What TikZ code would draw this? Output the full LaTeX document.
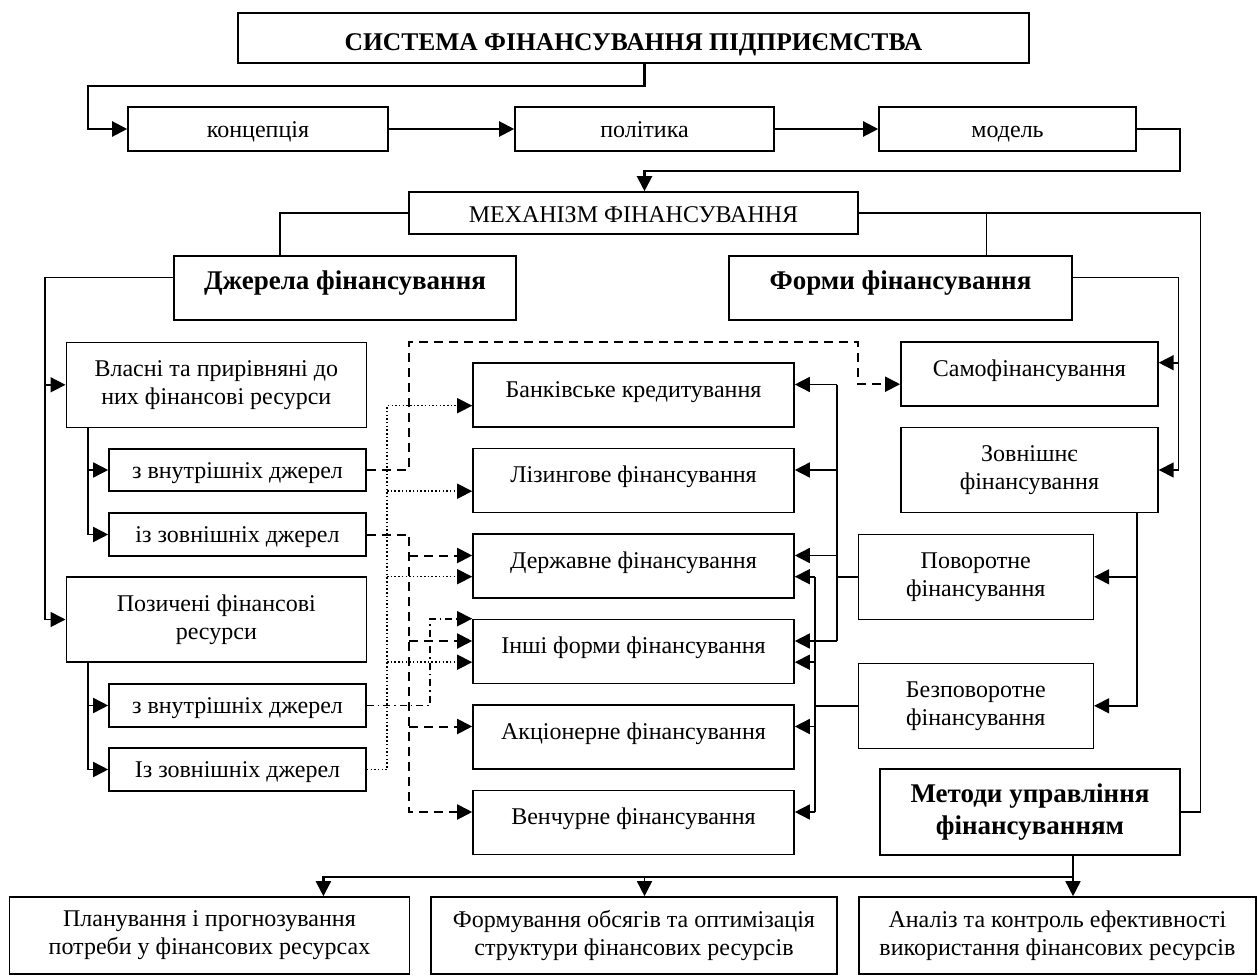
\documentclass[tikz,border=0pt]{standalone}
\usepackage{fontspec}
\setmainfont{Liberation Serif}
\usetikzlibrary{arrows.meta,calc}
\newcommand\myfs{\fontsize{24}{28}\selectfont}
\newcommand\mybf{\fontsize{27}{32}\selectfont\bfseries}
\begin{document}
\begin{tikzpicture}[x=1pt,y=-1pt,
  box/.style={draw, line width=1.6pt, inner sep=2pt, align=center, font=\myfs},
  bf/.style={font=\mybf},
  one/.style={text height=14pt, text depth=10pt},
  sm/.style={text height=20pt, text depth=4pt},
  low/.style={text height=21pt, text depth=3pt},
  wh/.style 2 args={minimum width=#1pt, minimum height=#2pt},
  ln/.style={line width=1.6pt, line join=miter},
  tip/.style={-{Triangle[length=15pt,width=15pt]}},
  arr/.style={ln, tip},
  thk/.style={line width=2.2pt, line join=miter, tip},
  dsh/.style={line width=2pt, dash pattern=on 9pt off 6pt, tip},
  dot/.style={line width=1.5pt, dash pattern=on 1.5pt off 2.2pt, tip},
  dd/.style={line width=1.6pt, dash pattern=on 7pt off 4pt on 1.5pt off 4pt, tip}]
\useasboundingbox (0,0) rectangle (1258,976);

% top part
\node[box,wh={791}{50},text height=27pt,text depth=2pt,font=\fontsize{25.5}{30}\selectfont\bfseries] (title) at (633.5,38) {СИСТЕМА ФІНАНСУВАННЯ ПІДПРИЄМСТВА};
\node[box,wh={260}{44},low] (konc) at (258,129) {концепція};
\node[box,wh={259}{44},low] (pol) at (644.5,129) {політика};
\node[box,wh={257}{44},low] (model) at (1007.5,129) {модель};
\node[box,wh={449}{42},text height=22pt,text depth=2pt] (mech) at (633.5,213) {МЕХАНІЗМ ФІНАНСУВАННЯ};
\node[box,wh={342}{64},bf,one] (dzh) at (345,288) {Джерела фінансування};
\node[box,wh={343}{64},bf,one] (form) at (900.5,288) {Форми фінансування};

% left column
\node[box,wh={300}{85}] (vlas) at (216.3,384.8) {Власні та прирівняні до\\них фінансові ресурси};
\node[box,wh={257}{42},sm] (vz1) at (237.5,470) {з внутрішніх джерел};
\node[box,wh={257}{43},sm] (vz2) at (237.5,534.5) {із зовнішніх джерел};
\node[box,wh={300}{85}] (poz) at (216.3,619.5) {Позичені фінансові\\ресурси};
\node[box,wh={257}{43},sm] (pz1) at (237.5,705.5) {з внутрішніх джерел};
\node[box,wh={257}{43},sm] (pz2) at (237.5,769.5) {Із зовнішніх джерел};

% middle column
\node[box,wh={321}{64},one] (bank) at (633.5,395) {Банківське кредитування};
\node[box,wh={321}{64},one] (liz) at (633.5,480.5) {Лізингове фінансування};
\node[box,wh={321}{64},one] (derzh) at (633.5,566) {Державне фінансування};
\node[box,wh={321}{64},one] (inshi) at (633.5,651.5) {Інші форми фінансування};
\node[box,wh={321}{64},one] (akc) at (633.5,737) {Акціонерне фінансування};
\node[box,wh={321}{64},one] (venc) at (633.5,822.5) {Венчурне фінансування};

% right column
\node[box,wh={257}{64},one] (samo) at (1029.4,374.2) {Самофінансування};
\node[box,wh={257}{85}] (zovn) at (1029.4,470) {Зовнішнє\\фінансування};
\node[box,wh={235}{85}] (povor) at (975.8,576.8) {Поворотне\\фінансування};
\node[box,wh={235}{85}] (bezp) at (975.8,705.8) {Безповоротне\\фінансування};
\node[box,wh={300}{86},bf] (metody) at (1030,812) {Методи управління\\фінансуванням};

% bottom row
\node[box,wh={400}{77}] (b1) at (209.5,935.5) {Планування і прогнозування\\потреби у фінансових ресурсах};
\node[box,wh={406}{77}] (b2) at (634,935.5) {Формування обсягів та оптимізація\\структури фінансових ресурсів};
\node[box,wh={397}{77}] (b3) at (1057.4,935.5) {Аналіз та контроль ефективності\\використання фінансових ресурсів};

% helper coordinates
\coordinate (t1) at (88,86);
\coordinate (t2) at (1180,170.7);
\coordinate (metR) at (1200.5,500);
\coordinate (fm) at (986.6,213);
\coordinate (L1) at (45,277.7);
\coordinate (L2) at (88,0);
\coordinate (R1) at (1178.6,0);
\coordinate (R2) at (1136.7,0);
\coordinate (B1) at (836.7,0);
\coordinate (B2) at (815,0);
\coordinate (dA) at (409,342.3);
\coordinate (dB) at (858,342.3);
\coordinate (D2) at (409,0);
\coordinate (P1) at (387,0);
\coordinate (Q1) at (430,0);
\coordinate (M1) at (1073,876.7);
\coordinate (M0) at (323.4,876.7);
\foreach \n in {bank,liz,derzh,inshi,akc,venc}{
  \coordinate (\n LU) at ($(\n.west)+(0,-10.5)$);
  \coordinate (\n LD) at ($(\n.west)+(0,10.7)$);
  \coordinate (\n RU) at ($(\n.east)+(0,-10.5)$);
  \coordinate (\n RD) at ($(\n.east)+(0,10.7)$);
}
\coordinate (samoR) at ($(samo.east)+(0,-11.5)$);
\coordinate (samoL) at ($(samo.west)+(0,10)$);
\coordinate (dzhW) at ($(dzh.west)+(0,-10.3)$);
\coordinate (formE) at ($(form.east)+(0,-10.3)$);

% top connectors
\draw[thk] (title.south -| pol) |- (t1) |- (konc.west);
\draw[thk] (konc) -- (pol);
\draw[thk] (pol) -- (model);
\draw[thk] (model.east) -| (t2) -| (mech.north -| pol);
\draw[ln] (mech.west) -| ($(dzh.north)+(-65,0)$);
\draw[ln] (fm) -- (fm |- form.north);
\draw[ln] (mech.east) -| (metR) |- (metody.east);

% left connectors
\draw[arr] (dzhW) -| (L1 |- poz.west) -- (poz.west);
\draw[arr] (L1 |- vlas.west) -- (vlas.west);
\draw[arr] (vlas.south -| L2) |- (vz2.west);
\draw[arr] (L2 |- vz1.west) -- (vz1.west);
\draw[arr] (poz.south -| L2) |- (pz2.west);
\draw[arr] (L2 |- pz1.west) -- (pz1.west);

% right connectors
\draw[arr] (formE) -| (R1 |- zovn.east) -- (zovn.east);
\draw[arr] (R1 |- samoR) -- (samoR);
\draw[arr] (zovn.south -| R2) |- (bezp.east);
\draw[arr] (R2 |- povor.east) -- (povor.east);

% buses to the middle column
\draw[ln] (povor.west) -- (B1 |- povor.west);
\draw[ln] (B1 |- bankRU) -- (B1 |- inshiRU);
\foreach \n in {bank,liz,derzh,inshi}{\draw[arr] (B1 |- \n RU) -- (\n RU);}
\draw[ln] (bezp.west) -- (B2 |- bezp.west);
\draw[ln] (B2 |- derzhRD) -- (B2 |- vencRU);
\draw[arr] (B2 |- derzhRD) -- (derzhRD);
\draw[arr] (B2 |- inshiRD) -- (inshiRD);
\draw[arr] (B2 |- akcRU) -- (akcRU);
\draw[arr] (B2 |- vencRU) -- (vencRU);

% dashed / dotted links from sources to forms
\draw[dsh] (vz1.east) -| (dA) -| (dB |- samoL) -- (samoL);
\draw[dsh] (vz2.east) -| (D2 |- vencLU) -- (vencLU);
\foreach \n in {derzh,inshi,akc}{\draw[dsh] (D2 |- \n LU) -- (\n LU);}
\draw[dot] (pz2.east) -| (P1 |- bankLD) -- (bankLD);
\foreach \n in {liz,derzh,inshi}{\draw[dot] (P1 |- \n LD) -- (\n LD);}
\draw[dd] (pz1.east) -| (Q1 |- inshi.north west) -- (inshi.north west);

% bottom connectors
\draw[arr] (metody.south -| M1) -- (M1 |- b3.north);
\draw[thk] (M1) -| (M0 |- b1.north);
\draw[arr] (pol |- M1) -- (pol |- b2.north);
\end{tikzpicture}
\end{document}
